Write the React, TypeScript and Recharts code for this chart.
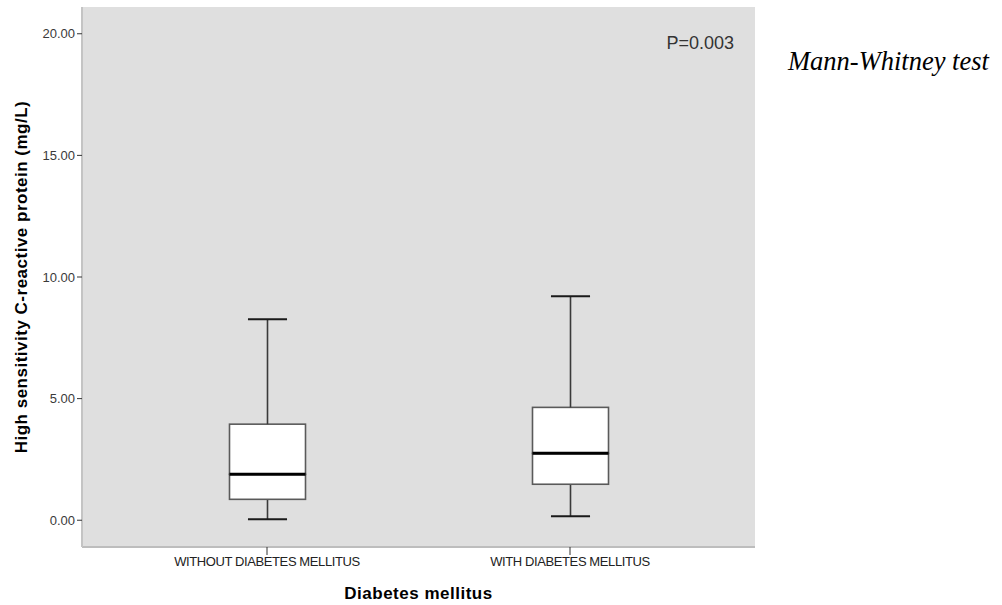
import { Bar, CartesianGrid, ComposedChart, XAxis, YAxis } from "recharts";

const categories = ["WITHOUT DIABETES MELLITUS", "WITH DIABETES MELLITUS"];
const whiskerLow = [0.04, 0.16];
const quartile1 = [0.86, 1.48];
const median = [1.89, 2.75];
const quartile3 = [3.95, 4.64];
const whiskerHigh = [8.26, 9.21];
const yTicks = [0, 5, 10, 15, 20];

const data = categories.map((name, i) => ({
  name,
  base: whiskerLow[i],
  lowWhisker: quartile1[i] - whiskerLow[i],
  lowBox: median[i] - quartile1[i],
  highBox: quartile3[i] - median[i],
  highWhisker: whiskerHigh[i] - quartile3[i],
}));

const sans = "'Liberation Sans', Arial, sans-serif";

const Hidden = () => <g />;

const whisker = (end: "low" | "high") => (props: any) => {
  const { x, y, width, height } = props;
  const cx = x + width / 2;
  const capY = end === "low" ? y + height : y;
  const half = width * 0.257;
  return (
    <g>
      <line x1={cx} x2={cx} y1={y} y2={y + height} stroke="#3a3a3a" strokeWidth={1.6} />
      <line x1={cx - half} x2={cx + half} y1={capY} y2={capY} stroke="#1a1a1a" strokeWidth={2} />
    </g>
  );
};

const box = (withMedian: boolean) => (props: any) => {
  const { x, y, width, height } = props;
  return (
    <g>
      <rect x={x} y={y} width={width} height={height} fill="#fff" stroke="#5a5a5a" strokeWidth={1.6} />
      {withMedian && (
        <line x1={x} x2={x + width} y1={y + height} y2={y + height} stroke="#000" strokeWidth={3} />
      )}
    </g>
  );
};

const YTitle = (props: any) => {
  const { viewBox } = props;
  const cx = viewBox.x - 1;
  const cy = viewBox.y + viewBox.height / 2;
  return (
    <text
      x={cx}
      y={cy}
      transform={`rotate(-90 ${cx} ${cy})`}
      textAnchor="middle"
      dominantBaseline="central"
      fontFamily={sans}
      fontWeight="bold"
      fontSize={17}
      letterSpacing={0.5}
      fill="#000"
    >
      High sensitivity C-reactive protein (mg/L)
    </text>
  );
};

const XTitle = (props: any) => {
  const { viewBox } = props;
  return (
    <text
      x={viewBox.x + viewBox.width / 2}
      y={599}
      textAnchor="middle"
      fontFamily={sans}
      fontWeight="bold"
      fontSize={17}
      letterSpacing={0.5}
      fill="#000"
    >
      Diabetes mellitus
    </text>
  );
};

export default function App() {
  return (
    <div style={{ position: "absolute", left: 0, top: 0, width: 1002, height: 605, background: "#fff" }}>
      <ComposedChart
        width={1002}
        height={605}
        data={data}
        margin={{ top: 7, right: 247, bottom: 28, left: 22 }}
      >
        <CartesianGrid fill="#dfdfdf" horizontal={false} vertical={false} />
        <XAxis
          dataKey="name"
          type="category"
          height={30}
          padding={{ left: 33.5, right: 33.5 }}
          axisLine={{ stroke: "#bdbdbd", strokeWidth: 2 }}
          tickLine={{ stroke: "#333" }}
          tickSize={8}
          tick={{ fontSize: 13, fontFamily: sans, fill: "#222", letterSpacing: -0.4 }}
          label={{ content: XTitle }}
        />
        <YAxis
          type="number"
          domain={[-1.1, 21.1]}
          ticks={yTicks}
          allowDataOverflow
          width={60}
          tickSize={5}
          tickFormatter={(v: number) => v.toFixed(2)}
          axisLine={{ stroke: "#c4c4c4", strokeWidth: 2 }}
          tickLine={{ stroke: "#333" }}
          tick={{ fontSize: 13, fontFamily: sans, fill: "#3a3a3a" }}
          label={{ content: YTitle }}
        />
        <Bar dataKey="base" stackId="box" barSize={76} shape={Hidden} isAnimationActive={false} />
        <Bar dataKey="lowWhisker" stackId="box" barSize={76} shape={whisker("low")} isAnimationActive={false} />
        <Bar dataKey="lowBox" stackId="box" barSize={76} shape={box(false)} isAnimationActive={false} />
        <Bar dataKey="highBox" stackId="box" barSize={76} shape={box(true)} isAnimationActive={false} />
        <Bar dataKey="highWhisker" stackId="box" barSize={76} shape={whisker("high")} isAnimationActive={false} />
      </ComposedChart>
      <div
        style={{
          position: "absolute",
          right: 1002 - 734,
          top: 32,
          fontFamily: sans,
          fontSize: 18,
          color: "#333",
          lineHeight: "22px",
        }}
      >
        P=0.003
      </div>
      <div
        style={{
          position: "absolute",
          left: 788,
          top: 45,
          fontFamily: "'Liberation Serif', 'Times New Roman', serif",
          fontStyle: "italic",
          fontSize: 26.5,
          color: "#000",
          lineHeight: "32px",
          whiteSpace: "nowrap",
        }}
      >
        Mann-Whitney test
      </div>
    </div>
  );
}
